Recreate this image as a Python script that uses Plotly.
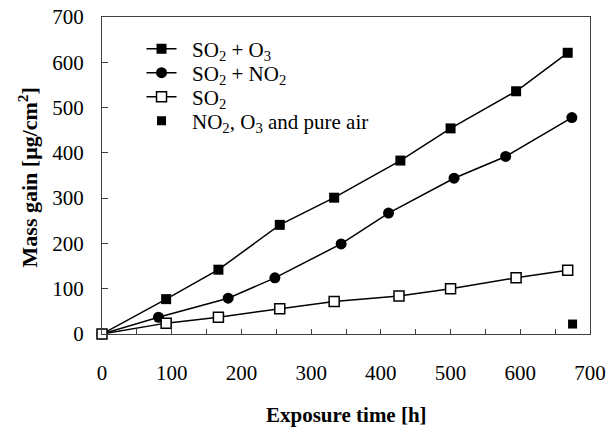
import plotly.graph_objects as go

# Data
so2_o3_x = [0, 92, 167, 255, 333, 428, 500, 594, 668]
so2_o3_y = [0, 77, 142, 241, 301, 383, 454, 536, 621]

so2_no2_x = [0, 81, 181, 248, 343, 411, 505, 579, 674]
so2_no2_y = [0, 37, 79, 124, 199, 267, 344, 392, 478]

so2_x = [0, 92, 167, 255, 333, 426, 500, 594, 668]
so2_y = [0, 24, 37, 56, 72, 84, 100, 124, 141]

air_x = [675]
air_y = [22]

x_range = [0, 700]
y_range = [0, 700]
x_major_step = 100
x_minor_step = 50
y_ticks = [0, 100, 200, 300, 400, 500, 600, 700]

series_names = [
    "SO<sub>2</sub> + O<sub>3</sub>",
    "SO<sub>2</sub> + NO<sub>2</sub>",
    "SO<sub>2</sub>",
    "NO<sub>2</sub>, O<sub>3</sub> and pure air",
]

FONT = "Liberation Serif"
BLACK = "#000000"
FRAME = "#404040"
PAD = "\u00a0\u00a0"

PLOT_H = 317

fig = go.Figure()
fig.add_trace(go.Scatter(
    x=so2_o3_x, y=so2_o3_y, mode="lines+markers",
    name=PAD + series_names[0], legend="legend",
    line=dict(color=BLACK, width=1.5), cliponaxis=False,
    marker=dict(symbol="square", size=10, color=BLACK),
))
fig.add_trace(go.Scatter(
    x=so2_no2_x, y=so2_no2_y, mode="lines+markers",
    name=PAD + series_names[1], legend="legend2",
    line=dict(color=BLACK, width=1.5), cliponaxis=False,
    marker=dict(symbol="circle", size=11, color=BLACK),
))
fig.add_trace(go.Scatter(
    x=so2_x, y=so2_y, mode="lines+markers",
    name=PAD + series_names[2], legend="legend3",
    line=dict(color=BLACK, width=1.5), cliponaxis=False,
    marker=dict(symbol="square", size=10, color="white",
                line=dict(color=BLACK, width=1.5)),
))
fig.add_trace(go.Scatter(
    x=air_x, y=air_y, mode="markers",
    name=PAD + series_names[3], legend="legend4", cliponaxis=False,
    marker=dict(symbol="square", size=9, color=BLACK),
))


def leg(ypx):
    return dict(
        x=0.081, y=(334 - ypx) / PLOT_H, xanchor="left", yanchor="middle",
        bgcolor="rgba(0,0,0,0)", borderwidth=0,
        font=dict(family=FONT, size=21, color=BLACK),
    )


fig.update_layout(
    width=609, height=429,
    margin=dict(l=102, r=19, t=17, b=95),
    paper_bgcolor="white", plot_bgcolor="white",
    font=dict(family=FONT, color=BLACK, size=21),
    showlegend=True,
    legend=leg(49), legend2=leg(73), legend3=leg(97), legend4=leg(121),
    annotations=[
        dict(text="<b>Exposure time [h]</b>", xref="paper", yref="paper",
             x=0.502, y=-0.257, xanchor="center", yanchor="middle",
             showarrow=False, font=dict(family=FONT, size=21, color=BLACK)),
        dict(text="<b>Mass gain [μg/cm<sup>2</sup>]</b>", xref="paper", yref="paper",
             x=-0.151, y=0.495, xanchor="center", yanchor="middle",
             textangle=-90, showarrow=False,
             font=dict(family=FONT, size=22, color=BLACK)),
    ],
)

fig.update_xaxes(
    range=x_range, tickmode="linear", tick0=0, dtick=x_major_step,
    ticks="inside", ticklen=5, tickwidth=1, tickcolor=FRAME,
    minor=dict(tickmode="linear", tick0=0, dtick=x_minor_step, ticks="inside",
               ticklen=5, tickwidth=1, tickcolor=FRAME),
    showline=True, linecolor=FRAME, linewidth=1.2, mirror=True,
    showgrid=False, zeroline=False, ticklabelstandoff=20, automargin=False,
    tickfont=dict(family=FONT, size=21, color=BLACK),
)
fig.update_yaxes(
    range=y_range, tickvals=y_ticks, ticktext=[str(v) for v in y_ticks],
    ticks="inside", ticklen=6, tickwidth=1, tickcolor=FRAME,
    showline=True, linecolor=FRAME, linewidth=1.2, mirror=True,
    showgrid=False, zeroline=False, ticklabelstandoff=13, automargin=False,
    tickfont=dict(family=FONT, size=21, color=BLACK),
)

fig.write_html(
    "out.html",
    config={"displayModeBar": False},
    post_script="document.body.style.margin='0';document.body.style.overflow='hidden';",
)
